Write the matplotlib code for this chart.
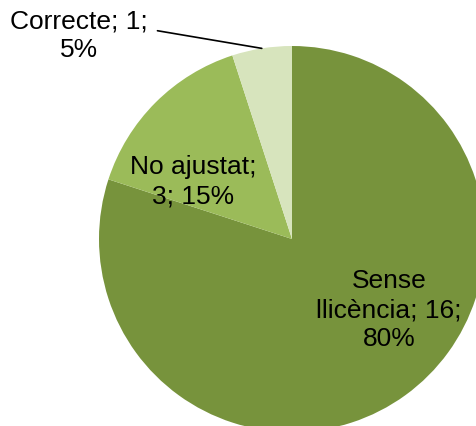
import numpy as np
import matplotlib

matplotlib.use("Agg")
import matplotlib.pyplot as plt

# Dades del gràfic
categories = ["Sense\nllicència", "No ajustat", "Correcte"]
values = [16, 3, 1]
percent_labels = ["80%", "15%", "5%"]
colors = ["#77933C", "#9BBB59", "#D7E4BD"]

# Posició de les etiquetes (en unitats del radi, respecte al centre)
LABEL_POS = [(0.503, -0.363), (-0.513, 0.30), (-1.104, 1.057)]
LABEL_TEXT = [
    "Sense\nllicència; 16;\n80%",
    "No ajustat;\n3; 15%",
    "Correcte; 1;\n5%",
]

W, H = 477, 427
CX, CY, R = 292, H - 240, 193
FS = 19

plt.rcParams["font.family"] = ["Liberation Sans", "DejaVu Sans"]

fig = plt.figure(figsize=(W / 100, H / 100), dpi=100)
ax = fig.add_axes([0, 0, 1, 1])

wedges, _ = ax.pie(
    values,
    colors=colors,
    startangle=90,
    counterclock=False,
    radius=R,
    center=(CX, CY),
    wedgeprops=dict(linewidth=0),
    frame=True,
)
ax.set_xlim(0, W)
ax.set_ylim(0, H)
ax.axis("off")

for i, (w, txt, (px, py)) in enumerate(zip(wedges, LABEL_TEXT, LABEL_POS)):
    tx, ty = CX + px * R, CY + py * R
    if i == 2:
        # línia guia cap a la porció petita
        mid = np.deg2rad((w.theta1 + w.theta2) / 2)
        ex, ey = CX + R * np.cos(mid), CY + R * np.sin(mid)
        ax.annotate(
            txt, xy=(ex, ey), xytext=(tx, ty),
            ha="center", va="center", fontsize=FS, linespacing=1.22,
            arrowprops=dict(
                arrowstyle="-", color="black", lw=1.2,
                connectionstyle="angle,angleA=0,angleB=-9.6,rad=0",
                relpos=(1.0, 0.6), shrinkA=5, shrinkB=0,
            ),
        )
    else:
        ax.text(tx, ty, txt, ha="center", va="center",
                fontsize=FS, linespacing=1.28)

fig.savefig("out.png", dpi=100)
